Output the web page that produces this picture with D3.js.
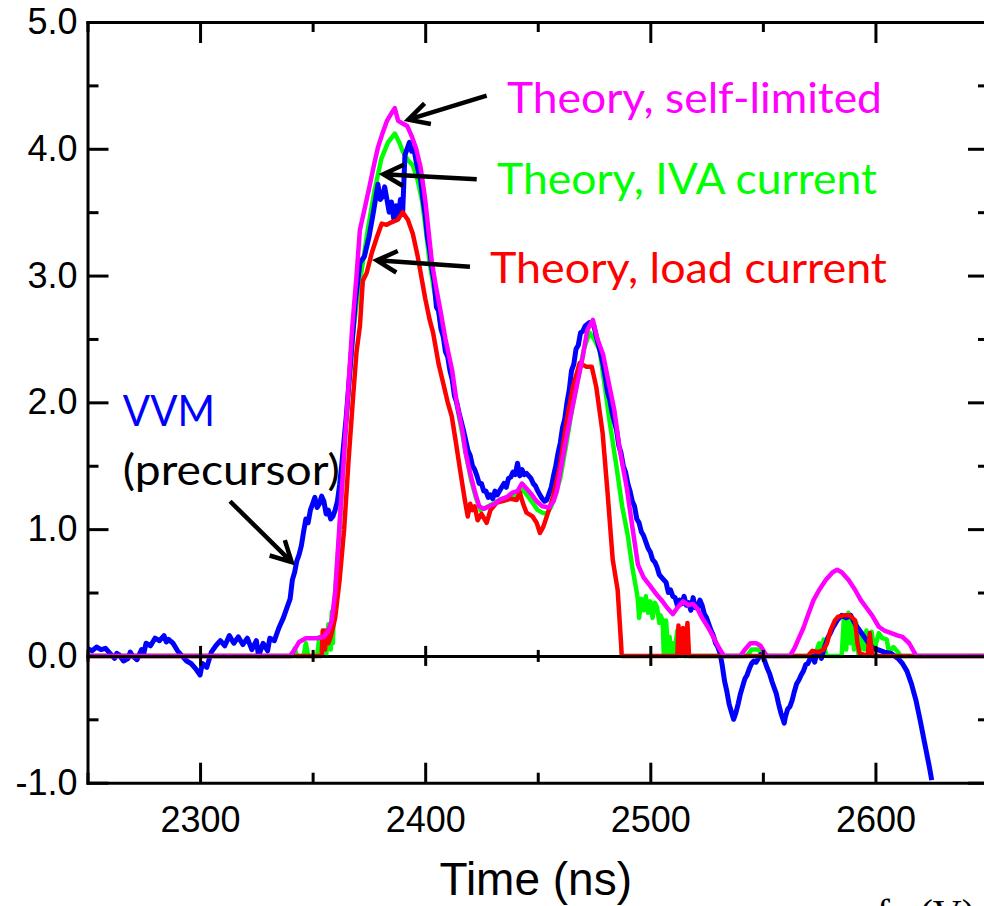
<!DOCTYPE html>
<html>
<head>
<meta charset="utf-8">
<title>VVM vs theory</title>
<script src="https://cdn.jsdelivr.net/npm/d3@7"></script>
<style>
  body { margin: 0; background: #fff; }
  svg { display: block; }
</style>
</head>
<body>
<svg width="984" height="906" id="mainsvg"></svg>
<script>
// ---- data: [time (ns), value] ----
const vvm = [
  [2250,0.06],[2252,0.04],[2254,0.07],[2256,0.05],[2258,0.06],[2260,0.02],[2262,-0.02],[2263,0.02],[2264,0.01],
  [2266,-0.04],[2268,-0.02],[2269,0.03],[2270,0.0],[2272,-0.03],[2274,0.05],[2275,0.02],[2276,0.1],[2278,0.08],[2280,0.14],
  [2282,0.12],[2284,0.16],[2285,0.11],[2286,0.13],[2288,0.1],[2290,0.04],[2292,0.0],[2294,-0.04],[2296,-0.06],
  [2298,-0.1],[2300,-0.15],[2301,-0.06],[2303,-0.09],[2305,0.03],[2307,0.08],[2309,0.12],[2311,0.08],
  [2313,0.16],[2315,0.1],[2317,0.15],[2319,0.09],[2321,0.14],[2323,0.05],[2325,0.12],[2326,0.0],
  [2328,0.1],[2330,0.04],[2331,0.14],[2333,0.12],[2335,0.22],[2337,0.3],[2339,0.4],[2340,0.45],[2341,0.6],
  [2342,0.66],[2343,0.75],[2344,0.8],[2345,0.87],[2346,0.98],[2347,1.08],[2348,1.05],[2349,1.15],[2350,1.2],[2351,1.25],[2352,1.17],[2353,1.2],
  [2354,1.26],[2355,1.22],[2356,1.12],[2357,1.15],[2358,1.08],[2359,1.1],[2360,1.15],[2361,1.22],[2362,1.35],[2363,1.52],[2365,1.9],[2367,2.35],[2369,2.8],[2371,3.1],[2373,3.15],
  [2375,3.3],[2377,3.5],[2379,3.72],[2380,3.6],[2381,3.62],[2382,3.7],[2384,3.5],[2385,3.58],[2386,3.45],[2387,3.55],
  [2388,3.45],[2389,3.6],[2390,3.5],[2391,3.95],[2393,4.05],[2394,3.98],[2395,4.0],[2396,3.9],[2397,3.82],[2398,3.75],[2399,3.6],
  [2400,3.48],[2401,3.3],[2402,3.2],[2403,3.05],[2404,2.95],[2405,2.75],[2406,2.72],[2407,2.58],[2408,2.52],[2409,2.4],[2410,2.36],[2411,2.25],[2412,2.18],[2413,2.05],[2414,2.0],[2415,1.92],
  [2416,1.85],[2417,1.78],[2418,1.7],[2419,1.62],[2420,1.58],[2421,1.5],[2422,1.47],[2423,1.42],[2424,1.36],[2425,1.36],[2426,1.3],[2427,1.3],[2428,1.25],[2429,1.27],[2430,1.24],[2431,1.3],
  [2432,1.27],[2433,1.3],[2434,1.33],[2435,1.36],[2436,1.33],[2437,1.4],[2438,1.41],[2439,1.45],[2440,1.43],[2441,1.52],[2442,1.42],[2443,1.47],[2444,1.43],[2445,1.44],
  [2446,1.42],[2447,1.4],[2448,1.36],[2449,1.34],[2450,1.3],[2451,1.27],[2452,1.24],[2453,1.22],[2454,1.23],[2455,1.28],[2456,1.33],[2457,1.42],[2458,1.5],[2459,1.6],[2460,1.68],[2461,1.8],
  [2462,1.87],[2463,2.0],[2464,2.1],[2465,2.25],[2466,2.3],[2467,2.42],[2468,2.45],[2469,2.55],[2470,2.56],[2471,2.6],[2473,2.63],[2475,2.6],[2476,2.52],[2477,2.45],
  [2478,2.38],[2479,2.3],[2480,2.2],[2481,2.08],[2482,2.02],[2483,1.92],[2484,1.85],[2485,1.78],[2486,1.66],[2487,1.6],[2488,1.5],[2489,1.45],[2490,1.36],[2491,1.3],[2492,1.22],[2493,1.18],
  [2494,1.08],[2495,1.05],[2496,0.98],[2497,0.95],[2498,0.9],[2499,0.85],[2500,0.82],[2501,0.76],[2502,0.74],[2503,0.7],[2504,0.64],[2505,0.62],[2506,0.6],[2507,0.58],[2508,0.5],
  [2509,0.52],[2510,0.47],[2511,0.46],[2512,0.4],[2513,0.44],[2514,0.41],[2515,0.47],[2516,0.4],[2517,0.42],[2518,0.36],[2519,0.46],[2520,0.38],[2521,0.38],[2522,0.44],[2523,0.4],
  [2524,0.33],[2525,0.3],[2526,0.25],[2527,0.2],[2528,0.16],[2529,0.1],[2530,0.07],[2531,0.02],[2532,-0.08],[2533,-0.2],[2534,-0.28],[2535,-0.38],[2536,-0.44],[2537,-0.5],[2538,-0.45],
  [2539,-0.38],[2540,-0.3],[2541,-0.24],[2542,-0.18],[2543,-0.15],[2544,-0.1],[2545,-0.06],[2546,-0.04],[2547,-0.05],[2548,-0.02],[2549,0.01],[2550,0.0],[2551,-0.05],[2552,-0.1],[2553,-0.14],[2554,-0.2],
  [2555,-0.25],[2556,-0.3],[2557,-0.38],[2558,-0.45],[2559.5,-0.53],[2560,-0.48],[2561,-0.42],[2562,-0.4],[2563,-0.35],[2564,-0.28],[2565,-0.22],[2566,-0.19],[2567,-0.15],[2568,-0.12],[2569,-0.07],
  [2570,-0.06],[2571,-0.02],[2572,0.0],[2573,-0.05],[2574,0.02],[2575,0.03],[2576,-0.02],[2577,0.05],[2578,0.1],[2579,0.15],[2580,0.18],[2581,0.22],[2582,0.25],[2583,0.28],[2585,0.32],
  [2587,0.3],[2589,0.32],[2591,0.25],[2593,0.2],[2595,0.15],[2597,0.1],[2599,0.06],[2601,0.05],
  [2604,0.03],[2607,0.02],[2610,-0.02],[2612,-0.06],[2614,-0.12],[2616,-0.22],[2618,-0.35],
  [2620,-0.52],[2622,-0.7],[2624,-0.88],[2625,-0.98]
];

const selfLimited = [
  [2250,0],[2340,0],[2342,0.05],[2344,0.11],[2347,0.14],[2352,0.14],[2355,0.15],[2357,0.2],
  [2358.5,0.28],[2360,0.5],[2362,1.05],[2364,1.6],[2366,2.15],[2367.5,2.57],[2369.5,3.0],[2371,3.36],
  [2373,3.52],[2375,3.68],[2377,3.85],[2379,4.01],[2381,4.12],[2383,4.22],[2385,4.28],[2386.5,4.32],
  [2388,4.22],[2390,4.2],[2392,4.18],[2394,4.1],[2396,4.0],[2398,3.85],[2400,3.6],[2401.5,3.35],
  [2403,3.1],[2404.5,2.94],[2406.5,2.75],[2409,2.5],[2412,2.25],[2414,2.0],[2416.5,1.78],[2418,1.6],
  [2420,1.44],[2422,1.3],[2424,1.18],[2426,1.16],[2428.5,1.18],[2431,1.2],[2433,1.23],[2436,1.25],
  [2439,1.29],[2441,1.3],[2443,1.36],[2445,1.32],[2447,1.28],[2449.5,1.22],[2452,1.18],[2455,1.17],
  [2457,1.22],[2458.5,1.3],[2461,1.55],[2464,1.84],[2467,2.1],[2470,2.36],[2472,2.57],[2474.5,2.65],
  [2476.5,2.5],[2479,2.38],[2481,2.2],[2484,1.94],[2486.5,1.62],[2489.5,1.33],[2492,1.02],[2494.5,0.72],
  [2497,0.62],[2500,0.55],[2503,0.48],[2505,0.44],[2507.5,0.38],[2510,0.33],[2512,0.38],[2514.5,0.43],
  [2517,0.4],[2519,0.41],[2521,0.37],[2523,0.3],[2525.5,0.23],[2528,0.15],[2530,0.08],[2532,0.02],
  [2533,0],[2540,0],[2542,0.05],[2544.5,0.1],[2547,0.1],[2549,0.08],[2551,0.02],[2552,0],[2562,0],
  [2564,0.06],[2566,0.14],[2568,0.22],[2570,0.32],[2572.5,0.44],[2575,0.52],[2578,0.6],[2581,0.66],
  [2583,0.68],[2585,0.66],[2588,0.6],[2591,0.52],[2593.5,0.44],[2596,0.38],[2598.5,0.32],[2601.5,0.23],
  [2604,0.2],[2607,0.18],[2610,0.16],[2612,0.15],[2615,0.1],[2617.5,0.02],[2618,0],[2650,0]
];

const ivaCurrent = [
  [2250,0],[2341,0],[2342,0.06],[2343,0],[2346,0],[2347,0.1],[2348,0],[2352,0],[2353,0.15],
  [2354,0.05],[2355,0.2],[2356,0],[2357,0.25],[2358,0.05],[2358.5,0.35],[2359,0.1],[2359.5,0.4],
  [2360,0.5],[2362,1.0],[2364,1.6],[2366,2.1],[2368,2.55],[2370,2.85],[2372.3,3.1],[2374.5,3.36],
  [2377.5,3.67],[2380.5,3.92],[2383.5,4.05],[2386.5,4.12],[2388.5,4.05],[2390,3.98],[2392.3,3.91],
  [2394.5,3.87],[2396.7,3.75],[2398.5,3.6],[2400,3.4],[2402,3.1],[2404,2.88],[2406,2.7],[2409,2.45],
  [2412,2.2],[2414,1.98],[2416.5,1.75],[2418.5,1.55],[2420.5,1.38],[2422.5,1.25],[2424.5,1.15],
  [2427,1.17],[2430,1.2],[2433,1.23],[2436,1.25],[2439,1.26],[2441,1.27],[2443.5,1.31],[2446,1.25],
  [2448,1.2],[2450,1.15],[2452,1.13],[2454,1.12],[2456,1.18],[2458,1.28],[2460,1.4],[2462.5,1.65],
  [2465,1.92],[2468,2.2],[2470.5,2.42],[2473,2.55],[2475,2.5],[2477.5,2.41],[2480,2.1],[2482,1.84],
  [2485,1.49],[2487.5,1.18],[2490,0.95],[2492,0.7],[2494,0.5],[2494.5,0.44],[2495,0.3],[2496,0.45],
  [2497,0.36],[2498,0.47],[2499,0.34],[2500,0.43],[2501,0.3],[2502,0.42],[2503,0.38],[2504,0.26],[2504.5,0.32],[2505.5,0.28],[2506,0],
  [2507,0.28],[2508,0],[2508.6,0.15],[2509,0],[2510,0.1],[2510.5,0],[2512,0.2],[2512.5,0],[2514,0.15],
  [2514.5,0],[2543,0],[2545,0.05],[2548,0.05],[2550,0],[2573,0],[2575,0.1],[2576,0],[2577,0.13],
  [2578,0],[2585,0],[2586,0.3],[2587,0.05],[2588,0.34],[2589,0.1],[2589.5,0.28],[2590.5,0.05],
  [2591.5,0.26],[2592.5,0],[2594,0.18],[2595,0.05],[2596,0.2],[2597,0.05],[2598.3,0.19],[2599.5,0.05],
  [2601.5,0.18],[2603,0.14],[2605,0.13],[2606,0.03],[2608,0.07],[2610.5,0.02],[2611,0],[2650,0]
];

const loadCurrent = [
  [2250,0],[2354,0],[2354.5,0.2],[2355.5,0.05],[2356,0.2],[2357,0.1],[2358,0.15],[2360,0.3],
  [2362,0.6],[2364,1.0],[2366,1.55],[2368,2.05],[2369.5,2.4],[2371,2.6],[2372.3,2.96],[2374,3.02],
  [2376.3,3.18],[2378.5,3.3],[2380.7,3.41],[2382.9,3.4],[2385,3.42],[2387.8,3.44],[2390,3.5],
  [2392.3,3.44],[2394.5,3.33],[2396.7,3.15],[2398.5,2.97],[2400,2.82],[2402,2.65],[2403.5,2.55],
  [2406,2.3],[2408,2.15],[2410,2.0],[2411.8,1.89],[2413.5,1.7],[2415.3,1.49],[2417.6,1.23],
  [2418.9,1.1],[2420,1.2],[2421,1.15],[2422,1.18],[2423.3,1.07],[2425,1.12],[2427.3,1.05],[2429,1.15],
  [2431.8,1.21],[2434,1.22],[2436,1.23],[2438,1.24],[2440.7,1.23],[2442,1.29],[2443.5,1.2],[2445,1.13],
  [2447.7,1.1],[2449.5,1.05],[2451,0.97],[2452.5,1.02],[2454,1.1],[2456.7,1.25],[2459.8,1.49],
  [2462.9,1.86],[2465.6,2.12],[2468.6,2.31],[2471.7,2.28],[2474,2.28],[2476,2.12],[2478.8,1.76],
  [2481,1.29],[2483.3,0.76],[2485.5,0.52],[2487,0.1],[2487.3,0],[2512,0],[2512.5,0.24],[2513.5,0],
  [2514.5,0.22],[2515.5,0],[2516.5,0.26],[2517.2,0],[2570,0],[2572,0.04],[2575,0.03],[2577,0.05],
  [2578.5,0.1],[2580,0.2],[2582,0.28],[2583.5,0.31],[2586,0.32],[2588.5,0.32],[2591,0.28],[2592,0.1],
  [2593,0.02],[2596.5,0],[2597.5,0.18],[2598.5,0],[2650,0]
];

const xMajor = [2300, 2400, 2500, 2600];
const xMinor = [2250, 2350, 2450, 2550, 2650];
const yMajor = [-1, 0, 1, 2, 3, 4, 5];
const yMinor = [-0.5, 0.5, 1.5, 2.5, 3.5, 4.5];

// labels: text, colour, left/baseline anchor in data units, width in ns
const labels = [
  {text: 'Theory, self-limited', color: '#ff00ff', t: 2436.3, v: 4.28, w: 166.6},
  {text: 'Theory, IVA current',  color: '#00ff00', t: 2431.9, v: 3.64, w: 168.8},
  {text: 'Theory, load current', color: '#ff0000', t: 2428.8, v: 2.94, w: 176.3},
  {text: 'VVM',                  color: '#0000ff', t: 2265.7, v: 1.81, w: 40.9},
  {text: '(precursor)',          color: '#000000', t: 2265.7, v: 1.35, w: 96.4}
];
// arrows: tail -> tip, in data units
const arrows = [
  {from: [2427.3, 4.42], to: [2392.5, 4.23]},
  {from: [2422.9, 3.76], to: [2381.4, 3.80]},
  {from: [2419.9, 3.07], to: [2378.5, 3.12]},
  {from: [2313.3, 1.22], to: [2340.7, 0.74]}
];

// ---- layout ----
const svg = d3.select('#mainsvg');
const margin = {top: 22, left: 87.5};
const innerWidth = 900.5;
const innerHeight = 760.7;

const xScale = d3.scaleLinear().domain([2250, 2650]).range([0, innerWidth]);
const yScale = d3.scaleLinear().domain([-1, 5]).range([innerHeight, 0]);

const g = svg.append('g').attr('transform', `translate(${margin.left},${margin.top})`);

g.append('clipPath').attr('id', 'plotclip')
  .append('rect').attr('x', 0).attr('y', 0).attr('width', innerWidth).attr('height', innerHeight);

const line = d3.line().x(d => xScale(d[0])).y(d => yScale(d[1]));

const series = [
  {data: ivaCurrent, color: '#00ff00', width: 4.5},
  {data: vvm, color: '#0000ff', width: 5},
  {data: loadCurrent, color: '#ff0000', width: 4.5},
  {data: selfLimited, color: '#ff00ff', width: 4.5}
];

const curves = g.append('g').attr('clip-path', 'url(#plotclip)');
series.forEach(s => {
  curves.append('path')
    .datum(s.data)
    .attr('d', line)
    .attr('fill', 'none')
    .attr('stroke', s.color)
    .attr('stroke-width', s.width)
    .attr('stroke-linejoin', 'round');
});

// ---- axes ----
const tickFont = 'Liberation Sans, Arial, sans-serif';
function styleAxis(sel) {
  sel.select('.domain').attr('stroke-width', 3).attr('stroke-linecap', 'square');
  sel.selectAll('.tick line').attr('stroke-width', 3);
  sel.selectAll('.tick text').attr('font-family', tickFont).attr('font-size', 36).attr('fill', '#000');
}
function noDomain(sel) { sel.select('.domain').remove(); }

// bottom
g.append('g').attr('transform', `translate(0,${innerHeight})`)
  .call(d3.axisBottom(xScale).tickValues(xMinor).tickSize(-10).tickFormat(''))
  .call(noDomain).call(styleAxis);
g.append('g').attr('transform', `translate(0,${innerHeight})`)
  .call(d3.axisBottom(xScale).tickValues(xMajor).tickSize(-20).tickSizeOuter(0).tickPadding(24).tickFormat(d3.format('d')))
  .call(styleAxis);

// top
g.append('g')
  .call(d3.axisTop(xScale).tickValues(xMinor).tickSize(-10).tickFormat(''))
  .call(noDomain).call(styleAxis);
g.append('g')
  .call(d3.axisTop(xScale).tickValues(xMajor).tickSize(-21).tickSizeOuter(0).tickFormat(''))
  .call(styleAxis);

// left
g.append('g')
  .call(d3.axisLeft(yScale).tickValues(yMinor).tickSize(-11).tickFormat(''))
  .call(noDomain).call(styleAxis);
g.append('g')
  .call(d3.axisLeft(yScale).tickValues(yMajor).tickSize(-21).tickSizeOuter(0).tickPadding(10).tickFormat(d => d.toFixed(1)))
  .call(styleAxis);

// right
g.append('g').attr('transform', `translate(${innerWidth},0)`)
  .call(d3.axisRight(yScale).tickValues(yMinor).tickSize(-10).tickFormat(''))
  .call(noDomain).call(styleAxis);
g.append('g').attr('transform', `translate(${innerWidth},0)`)
  .call(d3.axisRight(yScale).tickValues(yMajor).tickSize(-20).tickSizeOuter(0).tickFormat(''))
  .call(styleAxis);

// zero line with crossing ticks
const y0 = yScale(0);
g.append('g').attr('transform', `translate(0,${y0})`)
  .call(d3.axisBottom(xScale).tickValues(xMajor).tickSize(10).tickSizeOuter(0).tickFormat(''))
  .call(styleAxis);
g.append('g').attr('transform', `translate(0,${y0})`)
  .call(d3.axisTop(xScale).tickValues(xMajor).tickSize(10).tickFormat(''))
  .call(noDomain).call(styleAxis);
g.append('g').attr('transform', `translate(0,${y0})`)
  .call(d3.axisBottom(xScale).tickValues(xMinor).tickSize(6).tickFormat(''))
  .call(noDomain).call(styleAxis);
g.append('g').attr('transform', `translate(0,${y0})`)
  .call(d3.axisTop(xScale).tickValues(xMinor).tickSize(6).tickFormat(''))
  .call(noDomain).call(styleAxis);

// axis title
g.append('text')
  .text('Time (ns)')
  .attr('x', xScale(2450) - 2)
  .attr('y', 873)
  .attr('text-anchor', 'middle')
  .attr('font-family', tickFont)
  .attr('font-size', 46);

// cut-off label fragment at the bottom right
g.append('text').text('f')
  .attr('x', 789).attr('y', 905)
  .attr('font-family', 'Liberation Serif, Times New Roman, serif').attr('font-size', 40);
g.append('text').text('(V)')
  .attr('x', 832).attr('y', 905)
  .attr('font-family', 'Liberation Serif, Times New Roman, serif').attr('font-size', 40);

// ---- annotations ----
labels.forEach(l => {
  g.append('text')
    .text(l.text)
    .attr('x', xScale(l.t))
    .attr('y', yScale(l.v))
    .attr('fill', l.color)
    .attr('font-family', 'Lato, Open Sans, sans-serif')
    .attr('font-size', 42)
    .attr('textLength', xScale(l.t + l.w) - xScale(l.t))
    .attr('lengthAdjust', 'spacingAndGlyphs');
});

arrows.forEach(a => {
  const x1 = xScale(a.from[0]), y1 = yScale(a.from[1]);
  const x2 = xScale(a.to[0]), y2 = yScale(a.to[1]);
  const ang = Math.atan2(y1 - y2, x1 - x2);
  const len = 23, spread = 28 * Math.PI / 180;
  const h1 = [x2 + len * Math.cos(ang + spread), y2 + len * Math.sin(ang + spread)];
  const h2 = [x2 + len * Math.cos(ang - spread), y2 + len * Math.sin(ang - spread)];
  g.append('path')
    .attr('d', `M${x1},${y1}L${x2},${y2}M${h1[0]},${h1[1]}L${x2},${y2}L${h2[0]},${h2[1]}`)
    .attr('fill', 'none')
    .attr('stroke', '#000')
    .attr('stroke-width', 4.5)
    .attr('stroke-linejoin', 'miter');
});
</script>
</body>
</html>
